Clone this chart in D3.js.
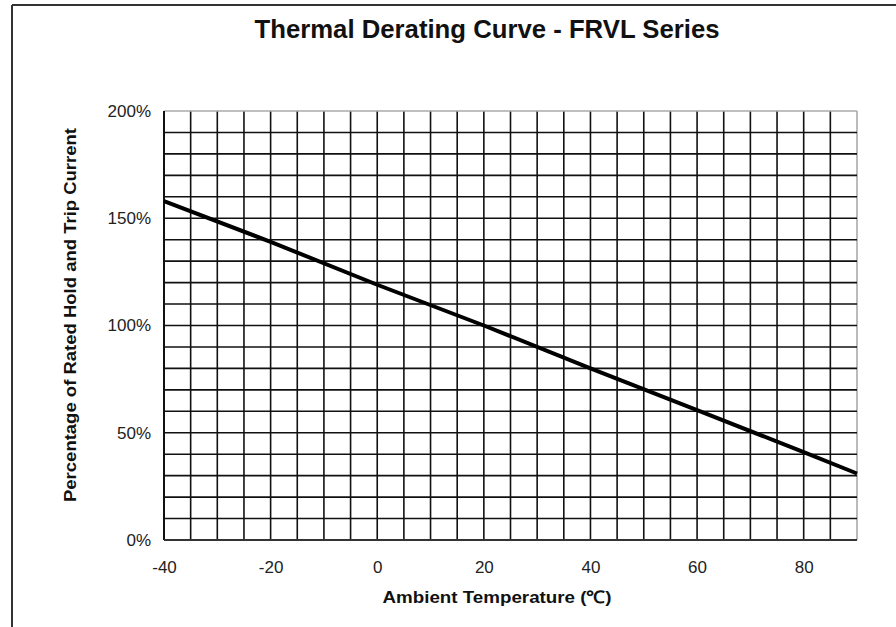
<!DOCTYPE html>
<html><head><meta charset="utf-8">
<script src="https://cdn.jsdelivr.net/npm/d3@7"></script>
<style>
body{margin:0;background:#fff;}
svg{display:block;}
</style></head>
<body>
<svg id="chart" width="896" height="627"></svg>
<script>
const titleText = "Thermal Derating Curve - FRVL Series";
const xLabel = "Ambient Temperature (\u2103)";
const yLabel = "Percentage of Rated Hold and Trip Current";
const temps = [-40, -20, 0, 20, 40, 60, 80, 90];
const percents = [158, 139, 119, 100, 80, 60.5, 41, 31];
const xTicks = [-40, -20, 0, 20, 40, 60, 80];
const yTicks = [0, 50, 100, 150, 200];

const svg = d3.select("#chart");
const W = 896, H = 627;
const m = {left:164, right:896-857, top:111, bottom:627-540};

const x = d3.scaleLinear().domain([-40, 90]).range([m.left, W - m.right]);
const y = d3.scaleLinear().domain([0, 200]).range([H - m.bottom, m.top]);

// outer frame (top and left)
svg.append("line").attr("x1",12).attr("x2",W).attr("y1",5).attr("y2",5).attr("stroke","#333").attr("stroke-width",2);
svg.append("line").attr("x1",12).attr("x2",12).attr("y1",5).attr("y2",H).attr("stroke","#333").attr("stroke-width",2);

// title
svg.append("text").attr("x",487).attr("y",38).attr("text-anchor","middle")
  .attr("font-family","'Liberation Sans Narrow','Liberation Sans',Arial,sans-serif")
  .attr("font-weight","bold").attr("font-size",26).attr("fill","#111")
  .attr("textLength",465).attr("lengthAdjust","spacingAndGlyphs")
  .text(titleText);

// grid
const g = svg.append("g");
const xGrid = d3.range(-40, 90.001, 5);
const yGrid = d3.range(0, 200.001, 10);
g.selectAll(".vx").data(xGrid).join("line")
  .attr("x1",d=>x(d)).attr("x2",d=>x(d)).attr("y1",y(0)).attr("y2",y(200))
  .attr("stroke",d=>d===90?"#aaa":"#111").attr("stroke-width",1.6);
g.selectAll(".hy").data(yGrid).join("line")
  .attr("x1",x(-40)).attr("x2",x(90)).attr("y1",d=>y(d)).attr("y2",d=>y(d))
  .attr("stroke",d=>d===200?"#aaa":"#111").attr("stroke-width",1.6);
g.append("line").attr("x1",x(-40)).attr("x2",x(-40)).attr("y1",y(0)).attr("y2",y(200)).attr("stroke","#111").attr("stroke-width",2);
g.append("line").attr("x1",x(-40)).attr("x2",x(90)).attr("y1",y(0)).attr("y2",y(0)).attr("stroke","#333").attr("stroke-width",2.2);

// axes (labels only)
const xAxis = svg.append("g").attr("transform",`translate(0,${y(0)})`)
  .call(d3.axisBottom(x).tickValues(xTicks).tickSize(0).tickPadding(21).tickFormat(d=>String(d)));
xAxis.select(".domain").remove();
xAxis.attr("font-size",null).attr("font-family",null);
xAxis.selectAll("text").style("font-family","'Liberation Sans',Arial,sans-serif").style("font-size","17px").attr("fill","#222");

const yAxis = svg.append("g").attr("transform",`translate(${x(-40)},0)`)
  .call(d3.axisLeft(y).tickValues(yTicks).tickSize(0).tickPadding(13).tickFormat(d=>d+"%"));
yAxis.select(".domain").remove();
yAxis.attr("font-size",null).attr("font-family",null);
yAxis.selectAll("text").style("font-family","'Liberation Sans',Arial,sans-serif").style("font-size","17px").attr("fill","#222");

// axis titles
svg.append("text").attr("x",497).attr("y",603).attr("text-anchor","middle")
  .attr("font-family","'Liberation Sans Narrow','Liberation Sans',Arial,sans-serif")
  .attr("font-weight","bold").attr("font-size",17).attr("fill","#111")
  .attr("textLength",229).attr("lengthAdjust","spacingAndGlyphs")
  .text(xLabel);
svg.append("text").attr("transform","translate(76,315) rotate(-90)").attr("text-anchor","middle")
  .attr("font-family","'Liberation Sans Narrow','Liberation Sans',Arial,sans-serif")
  .attr("font-weight","bold").attr("font-size",17).attr("fill","#111")
  .attr("textLength",374).attr("lengthAdjust","spacingAndGlyphs")
  .text(yLabel);

// curve
const data = temps.map((t,i)=>({t, p:percents[i]}));
svg.append("path").datum(data)
  .attr("fill","none").attr("stroke","#000").attr("stroke-width",4)
  .attr("d", d3.line().x(d=>x(d.t)).y(d=>y(d.p)));
</script>
</body></html>
